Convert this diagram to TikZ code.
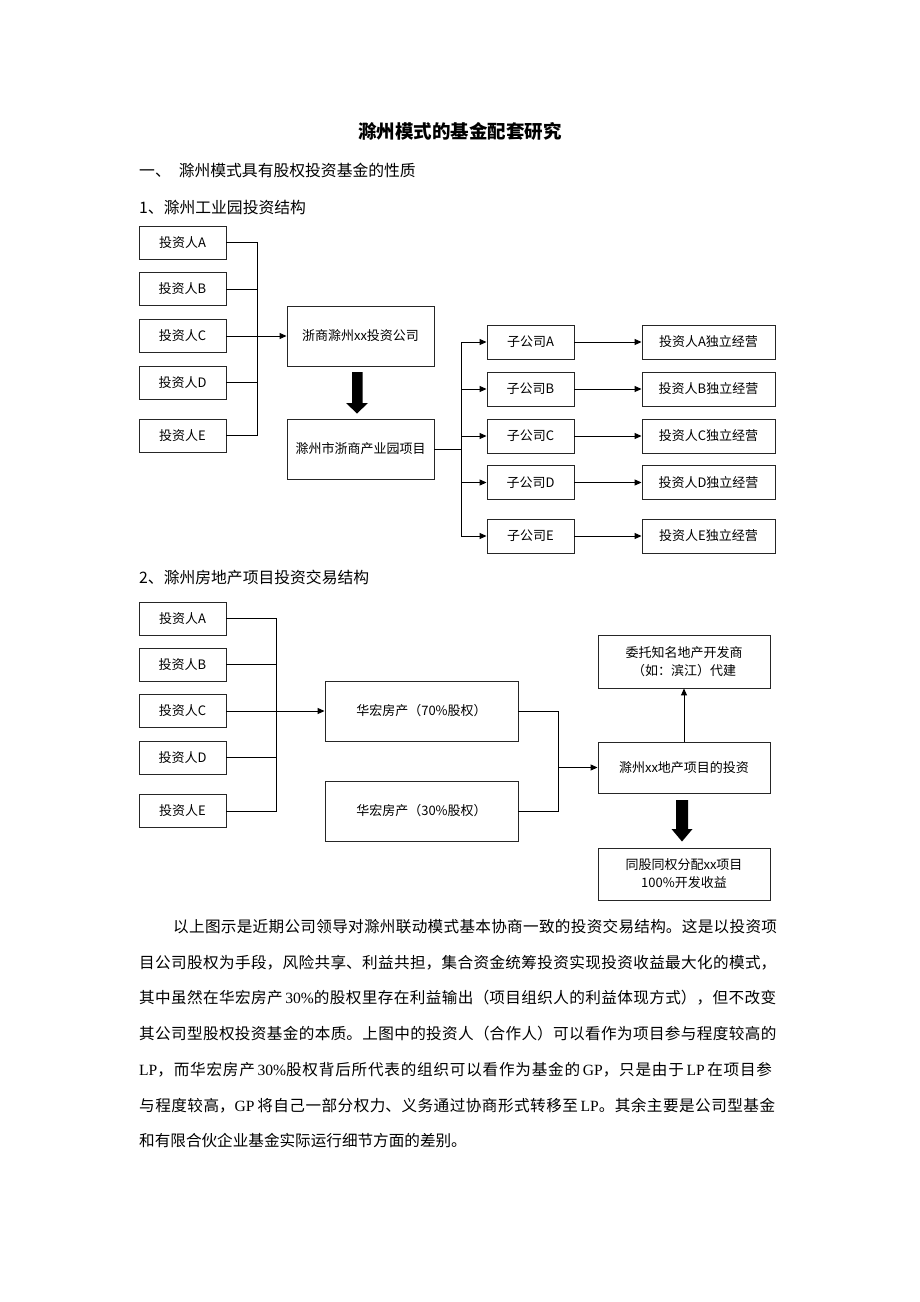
\documentclass[tikz,border=0pt]{standalone}
\usepackage{fontspec}
\setmainfont{Noto Sans CJK SC}
\newfontfamily\tms{Liberation Serif}
\usetikzlibrary{arrows.meta}
\XeTeXlinebreaklocale "zh"
\XeTeXlinebreakskip=0pt plus 3pt
\tikzset{
  box/.style={draw=black!85, line width=0.9pt, fill=white, inner sep=1pt, font=\fontsize{13}{16}\selectfont, align=center},
  conn/.style={line width=1pt, draw=black},
  arr/.style={conn, -{Triangle[length=7pt,width=6pt]}},
  bigarrow/.style={fill=black, draw=none},
  bodyline/.style={anchor=west, inner sep=0pt, font=\fontsize{15.6}{18}\selectfont},
  heading/.style={anchor=west, inner sep=0pt, font=\fontsize{15.8}{18}\selectfont},
}
\begin{document}
\begin{tikzpicture}[x=1pt,y=-1pt]
\useasboundingbox (0,0) rectangle (920,1302);
\fill[white] (0,0) rectangle (920,1302);

% titles
\node[inner sep=0pt, font=\fontsize{18.5}{20}\selectfont\bfseries] (title) at (460,131) {滁州模式的基金配套研究};
\node[heading] (h1) at (139,170) {一、\hspace{8pt}滁州模式具有股权投资基金的性质};
\node[heading] (h2) at (139,207) {1、滁州工业园投资结构};
\node[heading] (h3) at (139,577) {2、滁州房地产项目投资交易结构};

% ---------- diagram 1 ----------
\foreach \n/\y in {A/242.5,B/289,C/336,D/382.5,E/435.5}{
  \node[box, minimum width=87pt, minimum height=33pt] (i\n) at (182.5,\y) {投资人\n};
}
\coordinate (b1) at (257,0);
\node[box, minimum width=147pt, minimum height=60pt] (co) at (360.5,336) {浙商滁州xx投资公司};
\node[box, minimum width=147pt, minimum height=60pt] (pj) at (360.5,449) {滁州市浙商产业园项目};
\draw[conn] (iA.east) -- (iA.east -| b1) -- (iE.east -| b1) -- (iE.east);
\draw[conn] (iB.east) -- (iB.east -| b1);
\draw[conn] (iD.east) -- (iD.east -| b1);
\draw[conn] (iC.east) -- (iC.east -| b1);
\draw[arr] (iC.east -| b1) -- (co.west);
% big arrow 1
\fill[bigarrow] (352,372) -- (362.5,372) -- (362.5,403) -- (368,403) -- (357,413.5) -- (346,403) -- (352,403) -- cycle;

\foreach \n/\y in {A/342,B/389,C/436,D/482.5,E/536}{
  \node[box, minimum width=87pt, minimum height=34pt] (s\n) at (530.5,\y) {子公司\n};
  \node[box, minimum width=133pt, minimum height=34pt] (r\n) at (708.5,\y) {投资人\n 独立经营};
  \draw[arr] (s\n.east) -- (r\n.west);
}
\coordinate (b2) at (461,0);
\draw[conn] (pj.east) -- (pj.east -| b2);
\draw[conn] (sA.west -| b2) -- (sE.west -| b2);
\foreach \n in {A,B,C,D,E}{
  \draw[arr] (s\n.west -| b2) -- (s\n.west);
}

% ---------- diagram 2 ----------
\foreach \n/\y in {A/618.5,B/664.5,C/711,D/757.5,E/811}{
  \node[box, minimum width=87pt, minimum height=33pt] (j\n) at (182.5,\y) {投资人\n};
}
\coordinate (b3) at (276,0);
\node[box, minimum width=193pt, minimum height=60pt] (h70) at (421.5,711) {华宏房产（70\%股权）};
\node[box, minimum width=193pt, minimum height=60pt] (h30) at (421.5,811) {华宏房产（30\%股权）};
\draw[conn] (jA.east) -- (jA.east -| b3) -- (jE.east -| b3) -- (jE.east);
\draw[conn] (jB.east) -- (jB.east -| b3);
\draw[conn] (jD.east) -- (jD.east -| b3);
\draw[conn] (jC.east) -- (jC.east -| b3);
\draw[arr] (jC.east -| b3) -- (h70.west);

\node[box, minimum width=172pt, minimum height=51pt] (inv) at (684,767.5) {滁州xx地产项目的投资};
\node[box, minimum width=172pt, minimum height=53pt, font=\fontsize{13}{18}\selectfont] (dev) at (684,661.5) {委托知名地产开发商\\（如：滨江）代建};
\node[box, minimum width=172pt, minimum height=52pt, font=\fontsize{13}{18}\selectfont] (ret) at (684,874) {同股同权分配xx项目\\100\%开发收益};
\coordinate (b4) at (558,0);
\draw[conn] (h70.east) -- (h70.east -| b4) -- (h30.east -| b4) -- (h30.east);
\draw[arr] (inv.west -| b4) -- (inv.west);
\draw[arr] (inv.north) -- (dev.south);
% big arrow 2
\fill[bigarrow] (676,800) -- (688,800) -- (688,829) -- (692.5,829) -- (682,841.5) -- (671.5,829) -- (676,829) -- cycle;

% ---------- body text ----------
\node[bodyline, text width=607pt] (p1) at (173,926.5) {\parfillskip=0pt\relax 以上图示是近期公司领导对滁州联动模式基本协商一致的投资交易结构。这是以投资项\par};
\node[bodyline, text width=641pt] (p2) at (139,962.3) {\parfillskip=0pt\relax 目公司股权为手段，风险共享、利益共担，集合资金统筹投资实现投资收益最大化的模式，\par};
\node[bodyline, text width=641pt] (p3) at (139,998) {\parfillskip=0pt\relax 其中虽然在华宏房产\,{\tms 30\%}的股权里存在利益输出（项目组织人的利益体现方式），但不改变\par};
\node[bodyline, text width=641pt] (p4) at (139,1033.8) {\parfillskip=0pt\relax 其公司型股权投资基金的本质。上图中的投资人（合作人）可以看作为项目参与程度较高的\par};
\node[bodyline, text width=641pt] (p5) at (139,1069.6) {\parfillskip=0pt\relax {\tms LP}，而华宏房产\,{\tms 30\%}股权背后所代表的组织可以看作为基金的\,{\tms GP}，只是由于\,{\tms LP}\,在项目参\par};
\node[bodyline, text width=641pt] (p6) at (139,1105.4) {\parfillskip=0pt\relax 与程度较高，{\tms GP}\,将自己一部分权力、义务通过协商形式转移至\,{\tms LP}。其余主要是公司型基金\par};
\node[bodyline] (p7) at (139,1141) {和有限合伙企业基金实际运行细节方面的差别。};
\end{tikzpicture}
\end{document}
